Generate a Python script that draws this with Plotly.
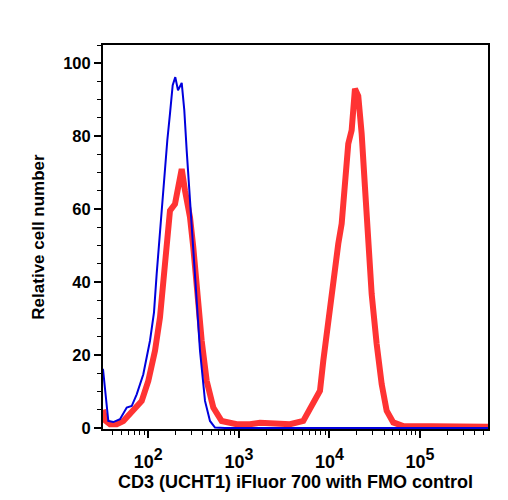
import plotly.graph_objects as go

# Blue: FMO control (thin line)
blue_x = [31.6, 36.2, 41.1, 48.7, 57.8, 65.6, 74.5, 88.1, 104.4, 115.6, 123.8, 137.1,
          149.1, 162.1, 173.6, 185.9, 198.6, 212.8, 233.8, 249.7, 265.3, 288.6, 313.8,
          342.1, 372.1, 422.6, 479.7, 544.8, 700, 1000, 3000, 10000, 30000, 100000, 562000]
blue_y = [16.2, 1.9, 1.6, 2.4, 5.6, 6.0, 9.2, 14.7, 23.9, 31.7, 42.3, 56.9,
          68.8, 78.8, 86.2, 94.0, 96.2, 92.6, 94.6, 87.1, 76.1, 63.3, 49.5,
          34.9, 21.2, 7.4, 1.9, 0.1, 0, 0, 0, 0, 0, 0, 0]

# Red: CD3 (UCHT1) iFluor 700 stained (thick line)
red_x = [31.6, 33.7, 37.8, 44.8, 53.0, 68.3, 84.6, 100, 118.6, 134.6, 149.1, 162.1,
         173.6, 197.1, 214.4, 233.8, 254.2, 288.6, 313.8, 342.1, 388.5, 441.2, 521.8,
         645.9, 945.6, 1326, 1710, 2503, 3664, 5138, 6624, 7856, 8543, 9700, 11015,
         12509, 13636, 14832, 16128, 17579, 19117, 20793, 22665, 24653, 26819, 29231,
         33189, 37691, 42792, 50603, 65236, 150000, 562000]
red_y = [5.0, 2.0, 1.0, 1.0, 1.9, 4.7, 7.4, 12.9, 21.2, 30.3, 42.2, 53.3,
         59.6, 61.4, 66.0, 71.0, 65.1, 57.8, 49.5, 37.6, 23.9, 12.9, 5.6,
         1.9, 1.0, 1.0, 1.4, 1.2, 1.0, 1.9, 6.5, 10.2, 18.4, 29.4, 41.3,
         50.5, 56.0, 66.0, 77.9, 81.6, 93.0, 91.0, 80.7, 66.0, 50.5, 36.7,
         23.0, 12.0, 4.7, 1.5, 0.5, 0.3, 0.3]

x_tickvals = [100, 1000, 10000, 100000]
x_ticktext = ["10<sup><span style='font-size:16px'>%d</span></sup>" % e for e in (2, 3, 4, 5)]
x_minor = [m * 10 ** e for e in range(1, 6) for m in range(2, 10)]

font_family = "Liberation Sans, Arial, sans-serif"

fig = go.Figure()
fig.add_trace(go.Scatter(x=red_x, y=red_y, mode="lines",
                         line=dict(color="#FF3333", width=6),
                         showlegend=False))
fig.add_trace(go.Scatter(x=blue_x, y=blue_y, mode="lines",
                         line=dict(color="#0000DD", width=2),
                         showlegend=False))

fig.update_layout(
    width=508, height=500,
    margin=dict(l=103, r=20, t=45, b=71),
    paper_bgcolor="white", plot_bgcolor="white",
    font=dict(family=font_family, color="black"),
    xaxis=dict(
        type="log", range=[1.5, 5.75],
        tickmode="array", tickvals=x_tickvals, ticktext=x_ticktext,
        ticks="outside", ticklen=7, tickwidth=1.5, tickcolor="black",
        ticklabelstandoff=8,
        minor=dict(tickmode="array", tickvals=x_minor, ticks="outside",
                   ticklen=4, tickwidth=1, tickcolor="black"),
        showgrid=False, zeroline=False,
        showline=True, linecolor="black", linewidth=2, mirror=True,
        tickfont=dict(size=18, family=font_family, weight="bold"),
        title=dict(text="CD3 (UCHT1) iFluor 700 with FMO control",
                   font=dict(size=18, family=font_family, weight="bold"),
                   standoff=1),
    ),
    yaxis=dict(
        range=[-0.3, 105],
        tickmode="linear", tick0=0, dtick=20,
        ticks="outside", ticklen=7, tickwidth=1.5, tickcolor="black",
        minor=dict(dtick=5, ticks="outside", ticklen=4, tickwidth=1, tickcolor="black"),
        showgrid=False, zeroline=False,
        showline=True, linecolor="black", linewidth=2, mirror=True,
        tickfont=dict(size=16.5, family=font_family, weight="bold"),
        title=dict(text="Relative cell number",
                   font=dict(size=17, family=font_family, weight="bold"),
                   standoff=14),
    ),
)

fig.write_html("out.html")
